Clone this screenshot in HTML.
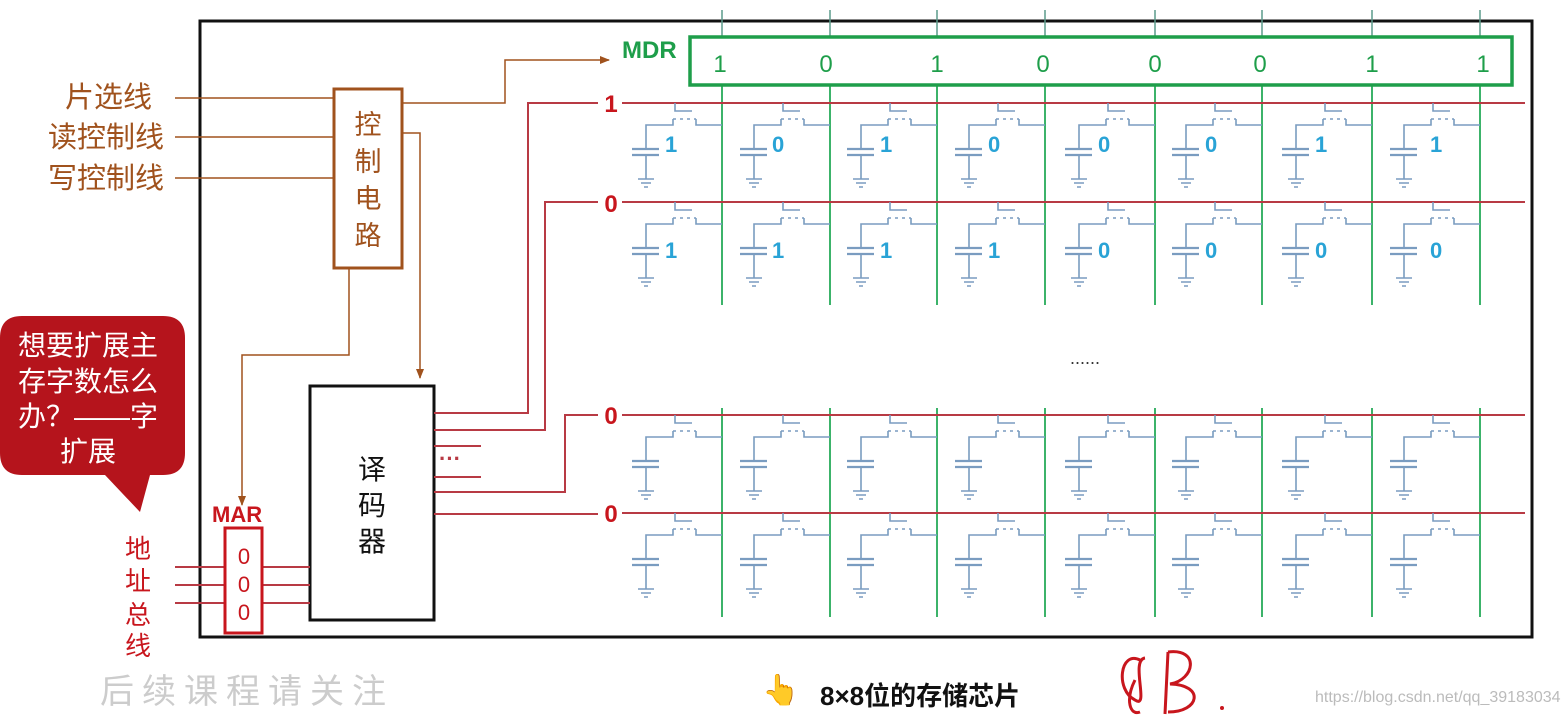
<!DOCTYPE html>
<html><head><meta charset="utf-8"><style>
html,body{margin:0;padding:0;background:#fff;width:1567px;height:716px;overflow:hidden}
svg{display:block}
text{font-family:"Liberation Sans","Noto Sans CJK SC",sans-serif}
</style></head><body>
<svg id="s" width="1567" height="716" viewBox="0 0 1567 716" xmlns="http://www.w3.org/2000/svg">
<defs><marker id="ar" markerWidth="10" markerHeight="10" refX="9" refY="5" orient="auto" markerUnits="userSpaceOnUse"><path d="M0,1 L10,5 L0,9 Z" fill="#a0521d"/></marker></defs>
<rect x="200" y="21" width="1332" height="616" fill="none" stroke="#111" stroke-width="3"/>
<g id="cells"></g>
<rect x="690" y="37" width="822" height="48" fill="none" stroke="#1e9e4a" stroke-width="3.5"/>
<text x="622" y="58" font-size="24" fill="#1e9e4a" font-weight="bold">MDR</text>
<g font-size="24" fill="#1e9e4a" text-anchor="middle">
<text x="720" y="72">1</text><text x="826" y="72">0</text><text x="937" y="72">1</text><text x="1043" y="72">0</text><text x="1155" y="72">0</text><text x="1260" y="72">0</text><text x="1372" y="72">1</text><text x="1483" y="72">1</text>
</g>
<g font-size="24" fill="#c8161d" text-anchor="middle" font-weight="bold">
<text x="611" y="112">1</text><text x="611" y="212">0</text><text x="611" y="424">0</text><text x="611" y="522">0</text>
</g>
<g font-size="22" fill="#29a3d6" font-weight="bold">
<text x="665" y="152">1</text><text x="772" y="152">0</text><text x="880" y="152">1</text><text x="988" y="152">0</text><text x="1098" y="152">0</text><text x="1205" y="152">0</text><text x="1315" y="152">1</text><text x="1430" y="152">1</text>
<text x="665" y="258">1</text><text x="772" y="258">1</text><text x="880" y="258">1</text><text x="988" y="258">1</text><text x="1098" y="258">0</text><text x="1205" y="258">0</text><text x="1315" y="258">0</text><text x="1430" y="258">0</text>
</g>
<text x="1085" y="364" font-size="18" fill="#333" text-anchor="middle">......</text>
<g font-size="29" fill="#a0521d">
<text x="65" y="107">片选线</text><text x="48" y="147">读控制线</text><text x="48" y="188">写控制线</text>
</g>
<g stroke="#a0521d" stroke-width="1.5" fill="none">
<line x1="175" y1="98" x2="335" y2="98"/><line x1="175" y1="137" x2="335" y2="137"/><line x1="175" y1="178" x2="335" y2="178"/>
<polyline points="402,103 505,103 505,60 609,60" marker-end="url(#ar)"/>
<polyline points="402,133 420,133 420,378" marker-end="url(#ar)"/>
<polyline points="349,268 349,355 242,355 242,505" marker-end="url(#ar)"/>
</g>
<rect x="334" y="89" width="68" height="179" fill="#fff" stroke="#a0521d" stroke-width="3"/>
<g font-size="27" fill="#a0521d" text-anchor="middle"><text x="368" y="134">控</text><text x="368" y="171">制</text><text x="368" y="208">电</text><text x="368" y="245">路</text></g>
<rect x="310" y="386" width="124" height="234" fill="#fff" stroke="#111" stroke-width="3"/>
<g font-size="28" fill="#111" text-anchor="middle"><text x="372" y="479">译</text><text x="372" y="515">码</text><text x="372" y="551">器</text></g>
<g stroke="#b83a44" stroke-width="2" fill="none">
<polyline points="434,413 528,413 528,103 598,103"/>
<polyline points="434,430 545,430 545,202 598,202"/>
<line x1="434" y1="446" x2="481" y2="446"/><line x1="434" y1="477" x2="481" y2="477"/>
<polyline points="434,492 565,492 565,415 598,415"/>
<line x1="434" y1="514" x2="598" y2="514"/>
</g>
<text x="450" y="466" font-size="22" fill="#b83a44" text-anchor="middle" font-weight="bold">···</text>
<text x="212" y="522" font-size="22" fill="#c8161d" font-weight="bold">MAR</text>
<g stroke="#b83a44" stroke-width="2">
<line x1="175" y1="567" x2="310" y2="567"/><line x1="175" y1="585" x2="310" y2="585"/><line x1="175" y1="603" x2="310" y2="603"/>
</g>
<rect x="225" y="528" width="37" height="105" fill="#fff" stroke="#c8161d" stroke-width="3"/>
<g font-size="22" fill="#c8161d" text-anchor="middle"><text x="244" y="564">0</text><text x="244" y="592">0</text><text x="244" y="620">0</text></g>
<g font-size="26" fill="#c8161d" text-anchor="middle"><text x="138" y="558">地</text><text x="138" y="590">址</text><text x="138" y="624">总</text><text x="138" y="655">线</text></g>
<path d="M22,316 H163 Q185,316 185,338 V453 Q185,475 163,475 H150 L140,512 L105,475 H22 Q0,475 0,453 V338 Q0,316 22,316 Z" fill="#b5141c"/>
<g font-size="28" fill="#fff" text-anchor="middle"><text x="88" y="355">想要扩展主</text><text x="88" y="391">存字数怎么</text><text x="88" y="426">办？——字</text><text x="88" y="461">扩展</text></g>
<text x="100" y="703" font-size="34" fill="#ccc" letter-spacing="8">后续课程请关注</text>
<text x="762" y="700" font-size="30">👆</text>
<text x="820" y="705" font-size="26" fill="#111" font-weight="bold">8×8位的存储芯片</text>
<path d="M1140,660 C1120,650 1115,690 1135,700 C1150,710 1130,660 1145,658 M1135,680 C1125,700 1130,716 1140,712" stroke="#c8161d" stroke-width="3" fill="none"/>
<path d="M1168,652 L1165,714 M1168,652 C1200,648 1195,680 1170,684 C1205,685 1200,712 1168,712" stroke="#c8161d" stroke-width="3" fill="none"/>
<circle cx="1222" cy="708" r="2" fill="#c8161d"/>
<text x="1315" y="702" font-size="16" fill="#bbb">https://blog.csdn.net/qq_39183034</text>
</svg>
<script>
var X=[722,830,937,1045,1155,1262,1372,1480],W=[103,202,415,513];
var g=document.getElementById('cells'),h='';
X.forEach(function(x){
 h+='<line x1="'+x+'" y1="10" x2="'+x+'" y2="37" stroke="#5a9a8a" stroke-width="1.5"/>';
 h+='<line x1="'+x+'" y1="85" x2="'+x+'" y2="305" stroke="#3cb36a" stroke-width="2"/>';
 h+='<line x1="'+x+'" y1="408" x2="'+x+'" y2="617" stroke="#3cb36a" stroke-width="2"/>';
});
W.forEach(function(w){h+='<line x1="622" y1="'+w+'" x2="1525" y2="'+w+'" stroke="#b83a44" stroke-width="2"/>';});
W.forEach(function(w){X.forEach(function(x){
 var c='#7a9cc0';
 h+='<path d="M'+(x-47)+','+w+' v8 h17 M'+(x-49)+','+(w+16)+' v6 h-27 v24 M'+(x-26)+','+(w+16)+' v6 H'+x+' M'+(x-76)+','+(w+52)+' v24 M'+(x-84)+','+(w+76)+' h16 M'+(x-81)+','+(w+80)+' h10 M'+(x-78)+','+(w+84)+' h4" stroke="'+c+'" stroke-width="1.6" fill="none"/>';
 h+='<path d="M'+(x-90)+','+(w+46)+' h27 M'+(x-90)+','+(w+52)+' h27" stroke="'+c+'" stroke-width="2.2"/>';
 h+='<path d="M'+(x-49)+','+(w+16)+' H'+(x-26)+'" stroke="'+c+'" stroke-width="1.6" stroke-dasharray="3,4"/>';
});});
g.innerHTML=h;
</script>
</body></html>
